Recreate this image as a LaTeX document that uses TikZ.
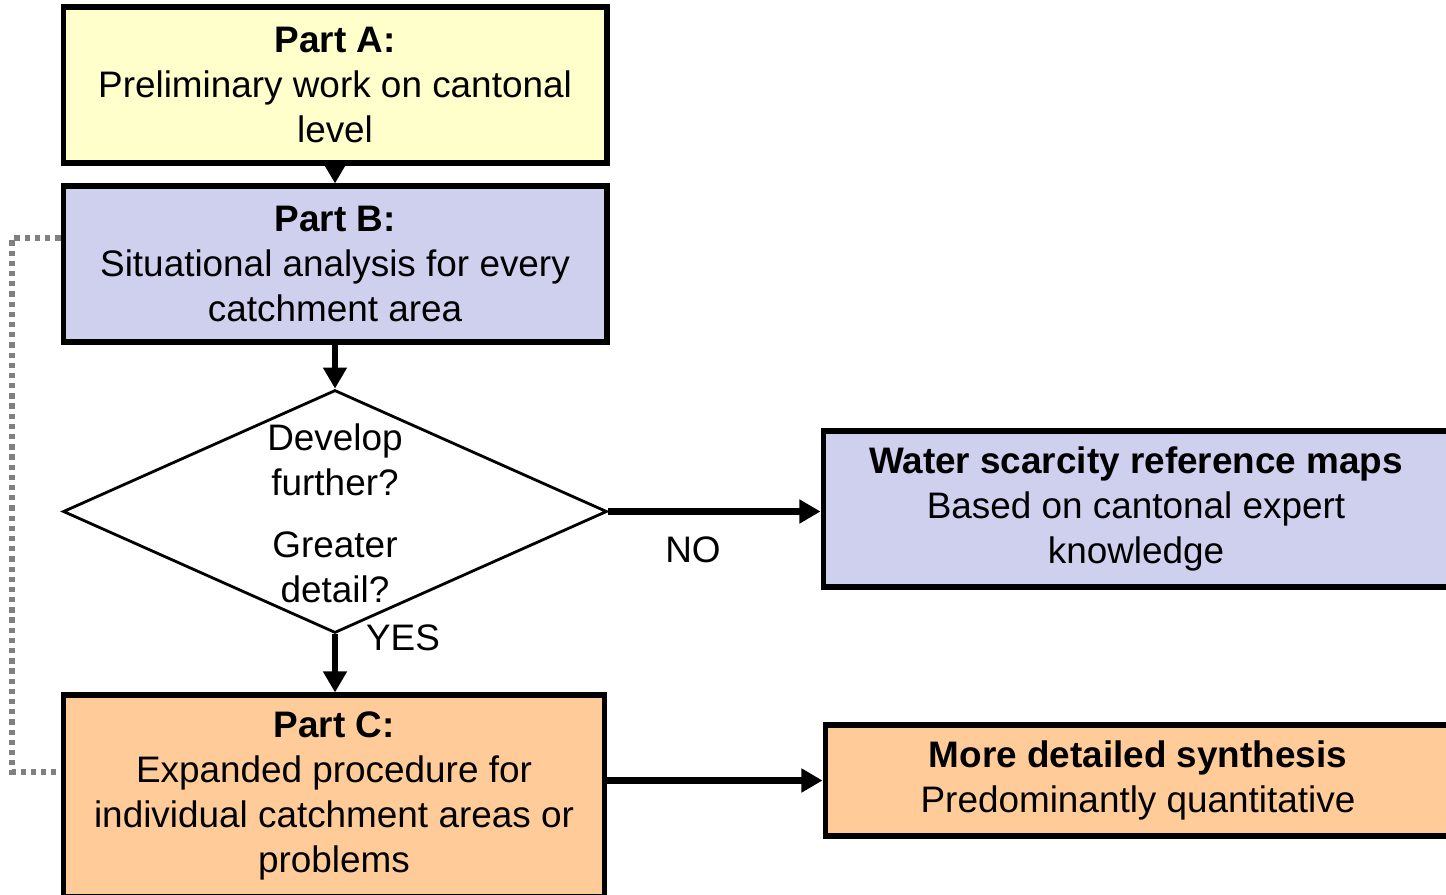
\documentclass[tikz,border=0pt]{standalone}
\usepackage{fontspec}
\setmainfont{Liberation Sans}
\usetikzlibrary{shapes.geometric,arrows.meta}

\definecolor{partA}{RGB}{255,255,204}
\definecolor{partB}{RGB}{207,208,238}
\definecolor{partC}{RGB}{255,204,153}

\begin{document}
\begin{tikzpicture}[x=0.02cm, y=-0.02cm, every node/.style={font=\fontsize{21}{25.5}\selectfont, align=center, inner sep=0pt}, box/.style={rectangle, draw=black, line width=2.9pt, minimum width=10.88cm, minimum height=3.12cm}, flow/.style={line width=3.9pt, -{Triangle[length=12pt, width=13pt]}}]
			\useasboundingbox (0,0) rectangle (1446,895);
			\node[box, fill=partA] (a) at (335,85) {\textbf{Part A:}\\Preliminary work on cantonal\\level};
			\node[box, fill=partB] (b) at (335,264) {\textbf{Part B:}\\Situational analysis for every\\catchment area};
			\node[diamond, draw=black, line width=1.6pt, fill=white, minimum width=10.88cm, minimum height=4.86cm] (d) at (335,511.5) {};
			\node (q) at ([yshift=-0.04cm]d.center) {Develop\\further?\\[0.34cm]Greater\\detail?};
			\node[box, fill=partC, minimum width=10.82cm, minimum height=4.04cm] (c) at (334,796) {\textbf{Part C:}\\Expanded procedure for\\individual catchment areas or\\problems};
			\node[box, fill=partB, minimum width=12.52cm] (w) at (1136,509) {\textbf{Water scarcity reference maps}\\Based on cantonal expert\\knowledge};
			\node[box, fill=partC, minimum width=12.52cm, minimum height=2.22cm] (m) at (1138,780.5) {\textbf{More detailed synthesis}\\Predominantly quantitative};
			\node (no) at (693,550) {NO};
			\node (yes) at (403,638) {YES};
			\coordinate (bl) at (12,238);
			\coordinate (cl) at (12,772);
			
			\draw[flow] (a) -- (b);
			\draw[flow] (b) -- (d);
			\draw[flow] (d.south) -- (d.south |- c.north);
			\draw[flow] (d.east) -- (d.east -| w.west);
			\draw[flow] (m.west -| c.east) -- (m.west);
			\draw[gray, line width=3pt, dash pattern=on 3pt off 2.8pt] (b.west |- bl) -- (bl) -- (cl) -- (c.west |- cl);
			\end{tikzpicture}
\end{document}
